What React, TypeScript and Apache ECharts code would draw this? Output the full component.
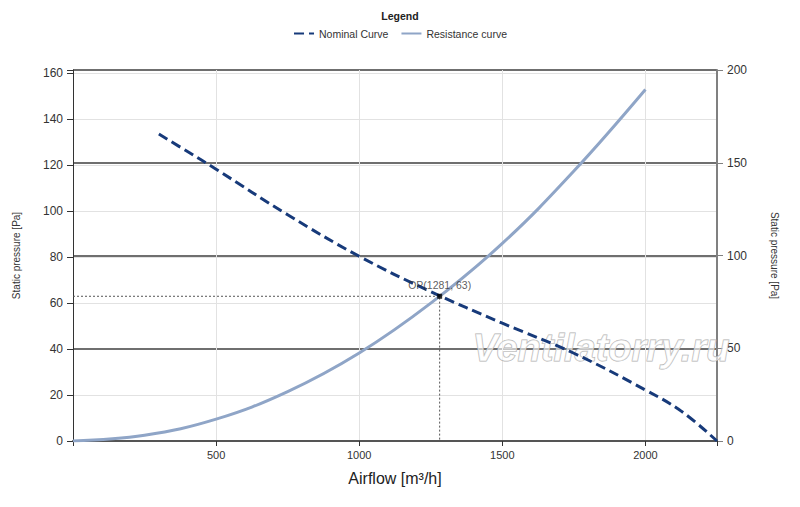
import React, { useEffect, useRef } from 'react';
import * as echarts from 'echarts';

// Nominal fan curve (airflow m³/h, static pressure Pa)
const nominalAirflow = [300, 400, 500, 750, 1000, 1250, 1500, 1750, 2000, 2125, 2250];
const nominalPressure = [133.6, 126, 118.3, 98.5, 80.4, 65, 51.3, 38.2, 22.2, 13, 0];

// System resistance curve
const resistanceAirflow = [0, 250, 500, 750, 1000, 1250, 1500, 1750, 2000];
const resistancePressure = [0, 2.5, 9.5, 21.5, 38.3, 60, 86, 117.5, 153];

// Operating point
const opAirflow = 1281;
const opPressure = 63;

const legendNames = ['Nominal Curve', 'Resistance curve'];

const FONT = '"Liberation Sans", Arial, sans-serif';

export default function App() {
  const ref = useRef<HTMLDivElement>(null);

  useEffect(() => {
    if (!ref.current) return;
    const chart = echarts.init(ref.current, undefined, { renderer: 'svg' });

    const nominalData = nominalAirflow.map((x, i) => [x, nominalPressure[i]]);
    const resistanceData = resistanceAirflow.map((x, i) => [x, resistancePressure[i]]);
    const opGuide = [
      [0, opPressure],
      [opAirflow, opPressure],
      [opAirflow, 0],
    ];

    chart.setOption({
      animation: false,
      backgroundColor: '#ffffff',
      textStyle: { fontFamily: FONT },
      title: {
        text: 'Legend',
        left: 'center',
        top: 5,
        textStyle: { fontSize: 10.5, fontWeight: 'bold', color: '#222', fontFamily: FONT },
      },
      legend: {
        data: legendNames,
        top: 23,
        left: 'center',
        itemWidth: 20,
        itemHeight: 10,
        itemGap: 12,
        itemStyle: { opacity: 0 },
        textStyle: { fontSize: 10.5, color: '#333', fontFamily: FONT },
      },
      grid: { left: 73, right: 83, top: 70, bottom: 66, containLabel: false },
      xAxis: {
        type: 'value',
        min: 0,
        max: 2250,
        interval: 500,
        name: 'Airflow [m³/h]',
        nameLocation: 'middle',
        nameGap: 29,
        nameTextStyle: { fontSize: 16, color: '#222', fontFamily: FONT },
        axisLine: { show: true, lineStyle: { color: '#555', width: 2 } },
        axisTick: { show: true, length: 5, lineStyle: { color: '#333' } },
        axisLabel: {
          fontSize: 11,
          color: '#333',
          margin: 8,
          formatter: (v: number) => (v > 0 && v % 500 === 0 ? String(v) : ''),
        },
        splitLine: { show: true, showMinLine: false, showMaxLine: false, lineStyle: { color: '#e2e2e2', width: 1 } },
      },
      yAxis: [
        {
          type: 'value',
          min: 0,
          max: 161.5,
          interval: 20,
          position: 'left',
          name: 'Static pressure [Pa]',
          nameLocation: 'middle',
          nameRotate: 90,
          nameGap: 52,
          nameTextStyle: { fontSize: 10, color: '#333', fontFamily: FONT },
          axisLine: { show: true, lineStyle: { color: '#333', width: 1 } },
          axisTick: { show: true, length: 6, lineStyle: { color: '#333' } },
          axisLabel: {
            fontSize: 12,
            color: '#333',
            margin: 10,
            formatter: (v: number) => (v % 20 === 0 ? String(v) : ''),
          },
          splitLine: { show: true, showMinLine: false, showMaxLine: false, lineStyle: { color: '#e2e2e2', width: 1 } },
        },
        {
          type: 'value',
          min: 0,
          max: 200,
          interval: 50,
          position: 'right',
          name: 'Static pressure [Pa]',
          nameLocation: 'middle',
          nameRotate: -90,
          nameGap: 52,
          nameTextStyle: { fontSize: 10, color: '#333', fontFamily: FONT },
          axisLine: { show: true, lineStyle: { color: '#808080', width: 2 } },
          axisTick: { show: true, length: 6, lineStyle: { color: '#808080' } },
          axisLabel: { fontSize: 12, color: '#333', margin: 10 },
          splitLine: { show: true, showMinLine: false, showMaxLine: true, lineStyle: { color: '#6f6f6f', width: 2 } },
        },
      ],
      graphic: [
        {
          type: 'text',
          left: 472,
          top: 328,
          z: 1,
          style: {
            text: 'Ventilatorry.ru',
            font: 'italic bold 38px "Liberation Sans", Arial, sans-serif',
            fill: 'rgba(255,255,255,0.6)',
            stroke: '#b0b0b0',
            lineWidth: 1,
          },
        },
      ],
      series: [
        {
          name: 'Nominal Curve',
          type: 'line',
          yAxisIndex: 0,
          data: nominalData,
          smooth: 0.4,
          symbol: 'none',
          lineStyle: { color: '#173a7a', width: 3, type: [10, 5] },
          itemStyle: { color: '#173a7a' },
          z: 4,
        },
        {
          name: 'Resistance curve',
          type: 'line',
          yAxisIndex: 0,
          data: resistanceData,
          smooth: 0.4,
          symbol: 'none',
          lineStyle: { color: '#8fa5c7', width: 3 },
          itemStyle: { color: '#8fa5c7' },
          z: 3,
        },
        {
          name: 'OP guide',
          type: 'line',
          yAxisIndex: 0,
          data: opGuide,
          symbol: 'none',
          lineStyle: { color: '#555', width: 1, type: [2, 2] },
          z: 2,
          silent: true,
        },
        {
          name: 'OP',
          type: 'scatter',
          yAxisIndex: 0,
          data: [[opAirflow, opPressure]],
          symbol: 'rect',
          symbolSize: 5,
          itemStyle: { color: '#000' },
          label: {
            show: true,
            position: 'top',
            distance: 3,
            formatter: `OP(${opAirflow}, ${opPressure})`,
            fontSize: 10.5,
            color: '#333',
            fontFamily: FONT,
          },
          z: 5,
        },
      ],
    });

    return () => chart.dispose();
  }, []);

  return (
    <div
      ref={ref}
      style={{ position: 'fixed', left: 0, top: 0, width: 800, height: 507 }}
    />
  );
}
